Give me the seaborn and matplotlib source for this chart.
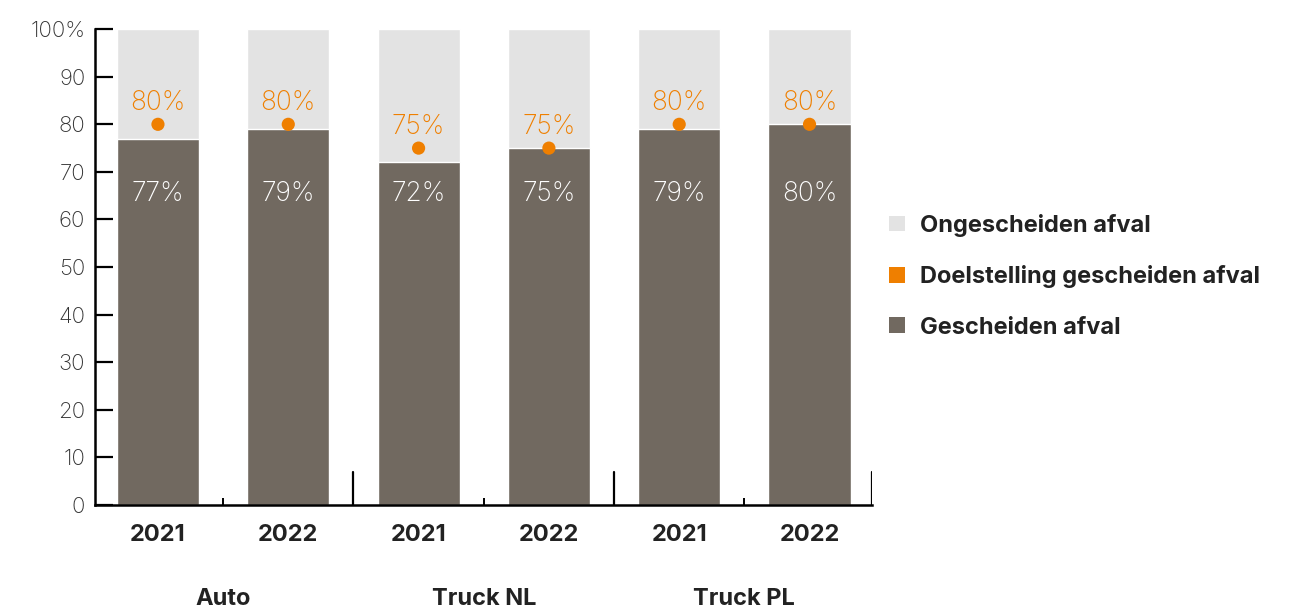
import matplotlib
matplotlib.use("Agg")
import matplotlib.pyplot as plt
from matplotlib.patches import Patch
import matplotlib.transforms as mtransforms
import seaborn as sns
import pandas as pd

# Data
groups = ["Auto", "Auto", "Truck NL", "Truck NL", "Truck PL", "Truck PL"]
years = ["2021", "2022", "2021", "2022", "2021", "2022"]
separated = [77, 79, 72, 75, 79, 80]          # Gescheiden afval (%)
target = [80, 80, 75, 75, 80, 80]             # Doelstelling gescheiden afval (%)
unseparated = [100 - v for v in separated]    # Ongescheiden afval (%)
group_names = ["Auto", "Truck NL", "Truck PL"]
yticks = [0, 10, 20, 30, 40, 50, 60, 70, 80, 90, 100]

BROWN = "#716960"
GREY = "#e3e3e3"
ORANGE = "#ef7f00"
TEXT = "#222222"

sns.set_theme(style="white")
plt.rcParams["font.family"] = ["Inter", "DejaVu Sans"]

df = pd.DataFrame({
    "slot": [f"{g}\n{y}" for g, y in zip(groups, years)],
    "year": years,
    "separated": separated,
    "total": [s + u for s, u in zip(separated, unseparated)],
    "target": target,
})
df["pos"] = range(len(df))

fig = plt.figure(figsize=(12.91, 6.07), dpi=100)
ax = fig.add_axes([0.0736, 0.168, 0.6019, 0.784])

bar_w = 0.63
sns.barplot(data=df, x="slot", y="total", color=GREY, width=bar_w,
            saturation=1, ax=ax, errorbar=None)
sns.barplot(data=df, x="slot", y="separated", color=BROWN, width=bar_w,
            saturation=1, ax=ax, errorbar=None)
sns.scatterplot(data=df, x="pos", y="target", color=ORANGE, s=90,
                edgecolor="none", ax=ax, zorder=5, legend=False)

for i, row in df.iterrows():
    ax.text(row["pos"], 65.3, f"{row['separated']}%", ha="center", va="center",
            color="white", fontsize=19, fontweight="light")
    ax.text(row["pos"], row["target"] + 4.4, f"{row['target']}%", ha="center",
            va="center", color=ORANGE, fontsize=19, fontweight="light")

ax.set_xlim(-0.483, 5.48)
ax.set_ylim(0, 100)
ax.set_xlabel("")
ax.set_ylabel("")

# y axis
ax.set_yticks(yticks)
ax.set_yticklabels([str(t) if t < 100 else "100%" for t in yticks],
                   color="#333333", fontsize=16, fontweight="light")
ax.tick_params(axis="y", direction="in", length=13, width=1.6, color="black", pad=7, left=True)

# x axis: year labels, small ticks between years, tall group separators
ax.set_xticks(range(len(df)))
ax.set_xticklabels(years, fontsize=17, fontweight="bold", color=TEXT)
ax.tick_params(axis="x", length=0, pad=14)
ax.set_xticks([0.5, 2.5, 4.5], minor=True)
ax.tick_params(axis="x", which="minor", direction="in", length=5, width=1.4,
               color="black", bottom=True)
for xsep in [1.5, 3.5, 5.48]:
    ax.axvline(xsep, ymin=0, ymax=33 / 476, color="black", lw=1.6, zorder=6)

for side in ["top", "right"]:
    ax.spines[side].set_visible(False)
for side in ["left", "bottom"]:
    ax.spines[side].set_color("black")
    ax.spines[side].set_linewidth(1.8)

trans = mtransforms.blended_transform_factory(ax.transData, fig.transFigure)
for k, name in enumerate(group_names):
    ax.text(2 * k + 0.5, 0.014, name, transform=trans, ha="center", va="center",
            fontsize=17, fontweight="bold", color=TEXT)

handles = [Patch(facecolor=GREY, edgecolor="none"),
           Patch(facecolor=ORANGE, edgecolor="none"),
           Patch(facecolor=BROWN, edgecolor="none")]
labels = ["Ongescheiden afval", "Doelstelling gescheiden afval", "Gescheiden afval"]
leg = fig.legend(handles, labels, loc="center left", bbox_to_anchor=(0.6725, 0.545),
                 frameon=False, handlelength=0.65, handleheight=0.65, handletextpad=0.65,
                 labelspacing=1.2, prop={"size": 17, "weight": "bold"})
for t in leg.get_texts():
    t.set_color(TEXT)

fig.savefig("out.png", dpi=100, facecolor="white")
